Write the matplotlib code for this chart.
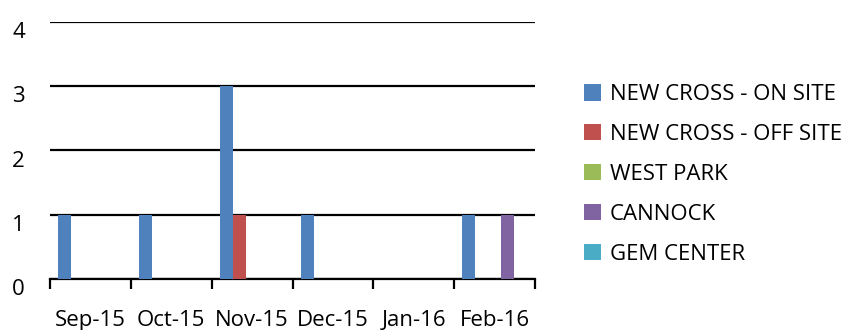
import numpy as np
import matplotlib
matplotlib.use('Agg')
import matplotlib.pyplot as plt
from matplotlib.transforms import ScaledTranslation
from matplotlib.patches import Patch

# donnees
months = ['Sep-15', 'Oct-15', 'Nov-15', 'Dec-15', 'Jan-16', 'Feb-16']
series_names = ['NEW CROSS - ON SITE', 'NEW CROSS - OFF SITE', 'WEST PARK',
                'CANNOCK', 'GEM CENTER']
new_cross_on = [1, 1, 3, 1, 0, 1]
new_cross_off = [0, 0, 1, 0, 0, 0]
west_park = [0, 0, 0, 0, 0, 0]
cannock = [0, 0, 0, 0, 0, 1]
gem_center = [0, 0, 0, 0, 0, 0]
colors = ['#4F81BD', '#C0504D', '#9BBB59', '#8064A2', '#4BACC6']

plt.rcParams['font.family'] = ['Open Sans', 'DejaVu Sans']

fig = plt.figure(figsize=(8.5, 3.3), dpi=100)
ax = fig.add_axes([50/850, 51/330, 485/850, 257.3/330])

x = np.arange(len(months))
w = 0.16
all_vals = [new_cross_on, new_cross_off, west_park, cannock, gem_center]
for i, vals in enumerate(all_vals):
    ax.bar(x - 0.4 + w*i, vals, width=w, align='edge', color=colors[i], zorder=3)

ax.set_xlim(-0.5, len(months) - 0.5)
ax.set_ylim(0, 4)
ax.set_yticks([0, 1, 2, 3, 4])
ax.yaxis.grid(True, color='#000000', linewidth=1.6, zorder=1)
ax.tick_params(axis='y', length=0, labelsize=16, pad=18)
for s in ['left', 'right', 'top']:
    ax.spines[s].set_visible(False)
ax.spines['bottom'].set_linewidth(1.6)

# ticks aux limites des categories, etiquettes au centre
ax.set_xticks(np.arange(len(months) + 1) - 0.5)
ax.set_xticklabels([])
ax.set_xticks(x, minor=True)
ax.set_xticklabels(months, minor=True, fontsize=16)
ax.tick_params(axis='x', which='major', length=7, width=1.6, direction='out')
ax.tick_params(axis='x', which='minor', length=0, pad=22)

off = ScaledTranslation(0, -6/72, fig.dpi_scale_trans)
for lab in ax.get_yticklabels():
    lab.set_transform(lab.get_transform() + off)

handles = [Patch(facecolor=c, edgecolor='none') for c in colors]
fig.legend(handles, series_names, loc='upper left',
           bbox_to_anchor=(573/850, 1 - 73/330), frameon=False,
           fontsize=16, handlelength=0.75, handleheight=0.75,
           handletextpad=0.4, labelspacing=0.85, borderpad=0)

fig.savefig('out.png', dpi=100)
